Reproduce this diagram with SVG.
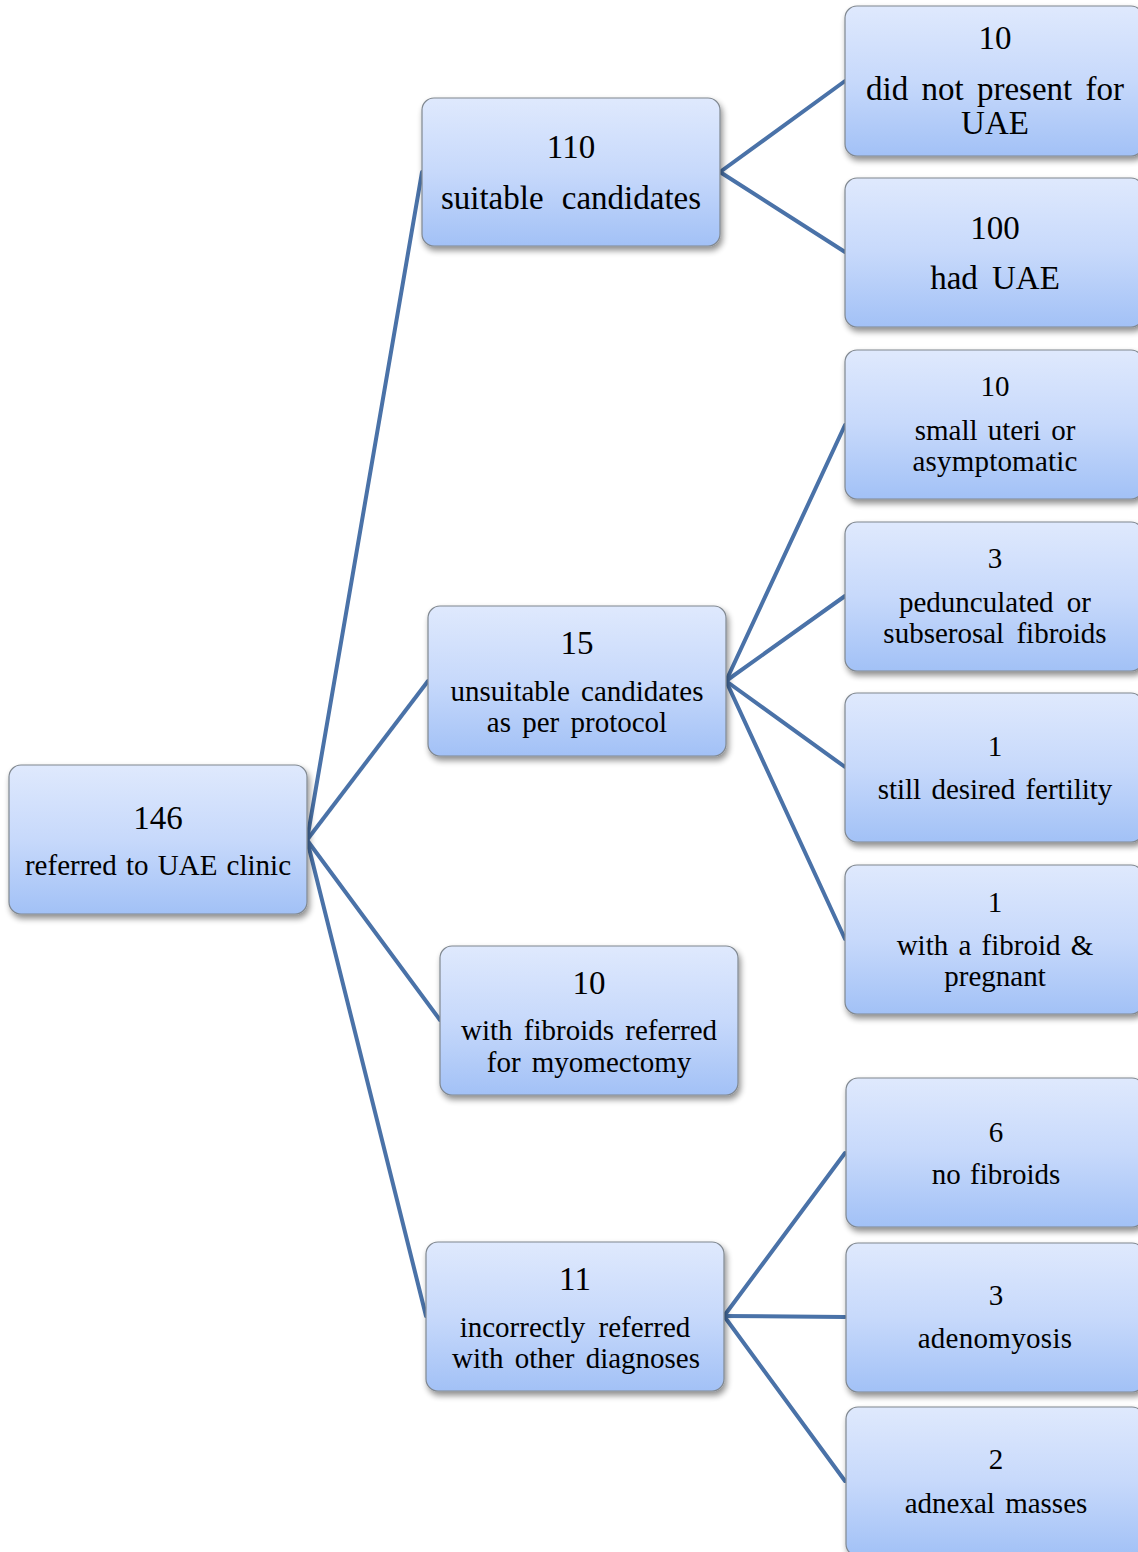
<svg xmlns="http://www.w3.org/2000/svg" width="1138" height="1552" viewBox="0 0 1138 1552">
<defs>
<linearGradient id="g" x1="0" y1="0" x2="0" y2="1">
<stop offset="0" stop-color="#dfe9fd"/>
<stop offset="0.5" stop-color="#c7d9fb"/>
<stop offset="1" stop-color="#a2c1f6"/>
</linearGradient>
<filter id="sh" x="-10%" y="-10%" width="125%" height="130%">
<feGaussianBlur in="SourceAlpha" stdDeviation="3"/>
<feOffset dx="2" dy="4" result="b"/>
<feComponentTransfer><feFuncA type="linear" slope="0.45"/></feComponentTransfer>
<feMerge><feMergeNode/><feMergeNode in="SourceGraphic"/></feMerge>
</filter>
</defs>
<style>
.box{fill:url(#g);stroke:#808890;stroke-width:1.2;filter:url(#sh)}
text{font-family:"Liberation Serif","Times New Roman",serif;fill:#000;text-anchor:middle}
.L{font-size:33px}
.S{font-size:29px}
.c line{stroke:#4a72a8;stroke-width:4;stroke-linecap:round}
</style>
<g class="c" id="connectors">
<line x1="307" y1="840" x2="422" y2="172"/>
<line x1="307" y1="840" x2="428" y2="681"/>
<line x1="307" y1="840" x2="440" y2="1020"/>
<line x1="307" y1="840" x2="426" y2="1316"/>
<line x1="720" y1="172" x2="845" y2="81"/>
<line x1="720" y1="172" x2="845" y2="252"/>
<line x1="726" y1="681" x2="845" y2="425"/>
<line x1="726" y1="681" x2="845" y2="596"/>
<line x1="726" y1="681" x2="845" y2="767"/>
<line x1="726" y1="681" x2="845" y2="939"/>
<line x1="724" y1="1316" x2="845" y2="1153"/>
<line x1="724" y1="1316" x2="845" y2="1317"/>
<line x1="724" y1="1316" x2="845" y2="1481"/>
</g>
<g id="n146"><rect class="box" x="9" y="765" width="298" height="149" rx="12"/>
<text class="L" x="158" y="829">146</text><text class="S" x="158" y="875" word-spacing="2">referred to UAE clinic</text></g>
<g id="n110"><rect class="box" x="422" y="98" width="298" height="148" rx="12"/>
<text class="L" x="571" y="158">110</text><text class="L" x="571" y="209" word-spacing="10">suitable candidates</text></g>
<g id="n15"><rect class="box" x="428" y="606" width="298" height="150" rx="12"/>
<text class="L" x="577" y="654">15</text><text class="S" x="577" y="701" word-spacing="4">unsuitable candidates</text><text class="S" x="577" y="732" word-spacing="4">as per protocol</text></g>
<g id="n10m"><rect class="box" x="440" y="946" width="298" height="149" rx="12"/>
<text class="L" x="589" y="994">10</text><text class="S" x="589" y="1040" word-spacing="4">with fibroids referred</text><text class="S" x="589" y="1072" word-spacing="4">for myomectomy</text></g>
<g id="n11"><rect class="box" x="426" y="1242" width="298" height="149" rx="12"/>
<text class="L" x="575" y="1290">11</text><text class="S" x="575" y="1337" word-spacing="6">incorrectly referred</text><text class="S" x="576" y="1368" word-spacing="4">with other diagnoses</text></g>
<g id="n10a"><rect class="box" x="845" y="6" width="298" height="150" rx="12"/>
<text class="L" x="995" y="49">10</text><text class="L" x="995" y="100" word-spacing="5">did not present for</text><text class="L" x="995" y="134">UAE</text></g>
<g id="n100"><rect class="box" x="845" y="178" width="298" height="149" rx="12"/>
<text class="L" x="995" y="239">100</text><text class="L" x="995" y="289" word-spacing="6">had UAE</text></g>
<g id="n10b"><rect class="box" x="845" y="350" width="298" height="149" rx="12"/>
<text class="S" x="995" y="396">10</text><text class="S" x="995" y="440" word-spacing="3">small uteri or</text><text class="S" x="995" y="471" letter-spacing="0.2">asymptomatic</text></g>
<g id="n3a"><rect class="box" x="845" y="522" width="298" height="149" rx="12"/>
<text class="S" x="995" y="568">3</text><text class="S" x="995" y="612" word-spacing="6">pedunculated or</text><text class="S" x="995" y="643" word-spacing="5">subserosal fibroids</text></g>
<g id="n1a"><rect class="box" x="845" y="693" width="298" height="149" rx="12"/>
<text class="S" x="995" y="756">1</text><text class="S" x="995" y="799" word-spacing="3">still desired fertility</text></g>
<g id="n1b"><rect class="box" x="845" y="865" width="298" height="149" rx="12"/>
<text class="S" x="995" y="912">1</text><text class="S" x="995" y="955" word-spacing="3">with a fibroid &amp;</text><text class="S" x="995" y="986">pregnant</text></g>
<g id="n6"><rect class="box" x="846" y="1078" width="298" height="149" rx="12"/>
<text class="S" x="996" y="1142">6</text><text class="S" x="996" y="1184" word-spacing="2">no fibroids</text></g>
<g id="n3b"><rect class="box" x="846" y="1243" width="298" height="149" rx="12"/>
<text class="S" x="996" y="1305">3</text><text class="S" x="995" y="1348" letter-spacing="0.3">adenomyosis</text></g>
<g id="n2"><rect class="box" x="846" y="1407" width="298" height="149" rx="12"/>
<text class="S" x="996" y="1469">2</text><text class="S" x="996" y="1513" word-spacing="3">adnexal masses</text></g>
</svg>
